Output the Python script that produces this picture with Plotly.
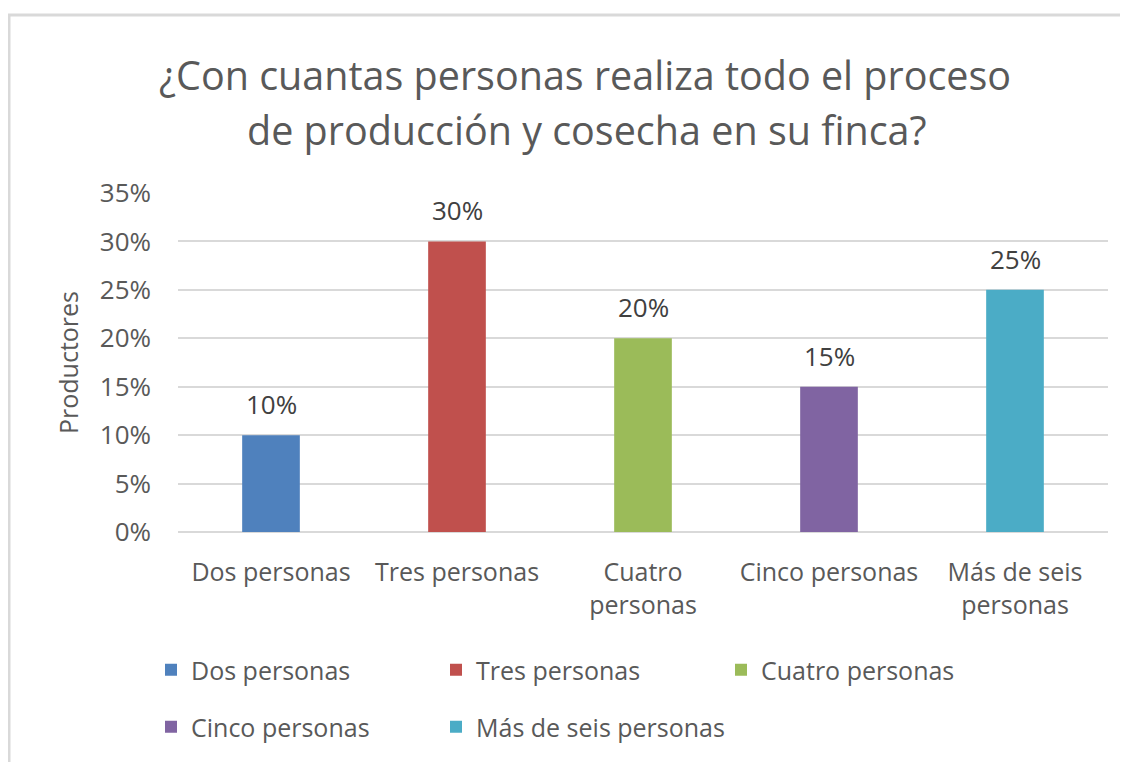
import plotly.graph_objects as go

# Data
categorias = ['Dos personas', 'Tres personas', 'Cuatro personas', 'Cinco personas', 'Más de seis personas']
etiquetas = ['Dos personas', 'Tres personas', 'Cuatro<br>personas', 'Cinco personas', 'Más de seis<br>personas']
valores = [0.10, 0.30, 0.20, 0.15, 0.25]
colores = ['#4F81BD', '#C0504D', '#9BBB59', '#8064A2', '#4BACC6']
y_ticks = [0, 0.05, 0.10, 0.15, 0.20, 0.25, 0.30, 0.35]

FONT = 'Open Sans'
GRIS = '#595959'

# plot area in page pixels (the page adds an 8px body margin)
OFF = 8
L, R, T, B = 178 - OFF, 1108 - OFF, 193 - OFF, 532 - OFF
W, H = R - L, B - T

def px_x(x):
	return (x - OFF - L) / W

def px_y(y):
	return (B - (y - OFF)) / H

fig = go.Figure()

# One trace per category so every bar gets its own legend entry
for i in range(len(categorias)):
	fig.add_trace(go.Bar(
		x=[etiquetas[i]], y=[valores[i]], name=categorias[i],
		marker_color=colores[i], marker_line_width=0,
		legend='legend' if i < 3 else 'legend2',
		hovertemplate='%{y:.0%}<extra>' + categorias[i] + '</extra>'
	))

# Empty entry so the last legend text is not clipped
fig.add_trace(go.Bar(x=[None], y=[None], name=' ', legend='legend2',
	marker_color='rgba(0,0,0,0)', marker_line_width=0, marker_line_color='rgba(0,0,0,0)',
	hoverinfo='skip'))

# Data labels above the bars
for i in range(len(categorias)):
	fig.add_annotation(x=etiquetas[i], y=valores[i], text=f'{valores[i]:.0%}',
		showarrow=False, yanchor='middle', yshift=31,
		font=dict(family=FONT, size=26, color='#404040'))

# Two-line title
fig.add_annotation(text='¿Con cuantas personas realiza todo el proceso', xref='paper', yref='paper',
	x=px_x(585), y=px_y(75), showarrow=False, xanchor='center', yanchor='middle',
	font=dict(family=FONT, size=39.5, color=GRIS))
fig.add_annotation(text='de producción y cosecha en su finca?', xref='paper', yref='paper',
	x=px_x(587), y=px_y(130), showarrow=False, xanchor='center', yanchor='middle',
	font=dict(family=FONT, size=39.5, color=GRIS))

# Chart border
fig.add_shape(type='rect', xref='paper', yref='paper',
	x0=px_x(9), x1=1.2, y0=-1.0, y1=px_y(15),
	line=dict(color='#D9D9D9', width=3), fillcolor='rgba(0,0,0,0)', layer='below')

legend_style = dict(orientation='h', xanchor='left', yanchor='middle', entrywidth=240,
	font=dict(family=FONT, size=25, color=GRIS), bgcolor='rgba(0,0,0,0)', traceorder='normal')

fig.update_layout(
	width=1128, height=762,
	margin=dict(l=L, r=1128 - R, t=T, b=762 - B),
	paper_bgcolor='white', plot_bgcolor='white',
	barmode='overlay', bargap=0.69,
	font=dict(family=FONT, size=25, color=GRIS),
	showlegend=True,
	legend=dict(x=px_x(151), y=px_y(670), **legend_style),
	legend2=dict(x=px_x(151), y=px_y(727), **legend_style),
)

fig.update_xaxes(showgrid=False, showline=False, zeroline=False, ticklabelstandoff=23,
	tickfont=dict(family=FONT, size=25, color=GRIS), categoryorder='array', categoryarray=etiquetas)
fig.update_yaxes(range=[0, 0.35], tickvals=y_ticks, tickformat='.0%', showgrid=True,
	gridcolor='#D9D9D9', gridwidth=1.5, zeroline=True, zerolinecolor='#D9D9D9', zerolinewidth=1.5,
	showline=False, ticklabelstandoff=26, tickfont=dict(family=FONT, size=26, color=GRIS),
	title=dict(text='Productores', standoff=14, font=dict(family=FONT, size=25, color=GRIS)))

fig.write_html('out.html')
